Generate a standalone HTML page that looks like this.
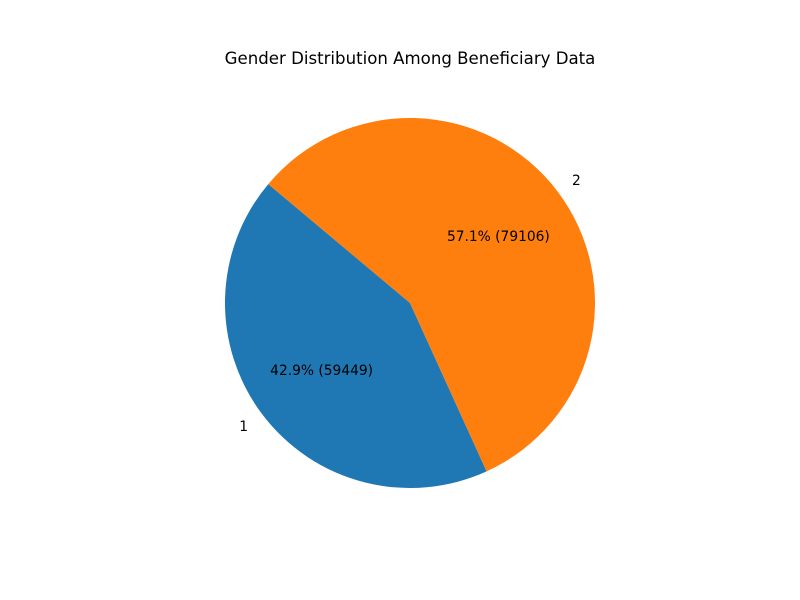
<!DOCTYPE html>
<html><head><meta charset="utf-8"><style>
body{margin:0;background:#fff;}
svg{display:block;font-family:"DejaVu Sans","Liberation Sans",sans-serif;}
</style></head><body>
<svg id="chart" width="800" height="600" viewBox="0 0 800 600">
<rect width="800" height="600" fill="#fff"/>
<text x="410" y="64" text-anchor="middle" font-size="16.6" fill="#000">Gender Distribution Among Beneficiary Data</text>
<g id="slices"></g>
</svg>
<script>
const categories = ["1", "2"];
const values = [59449, 79106];
const colors = ["#1f77b4", "#ff7f0e"];
const cx = 410, cy = 303, r = 185, startAngle = 140;
const svgNS = "http://www.w3.org/2000/svg";
const g = document.getElementById("slices");
const total = values.reduce((a, b) => a + b, 0);
let a0 = startAngle;
function pt(deg, rad) { const t = deg * Math.PI / 180; return [cx + rad * Math.cos(t), cy - rad * Math.sin(t)]; }
values.forEach((v, i) => {
  const sweep = v / total * 360;
  const a1 = a0 + sweep;
  const p0 = pt(a0, r), p1 = pt(a1, r);
  const large = sweep > 180 ? 1 : 0;
  const path = document.createElementNS(svgNS, "path");
  path.setAttribute("d", `M${cx},${cy} L${p0[0]},${p0[1]} A${r},${r} 0 ${large} 0 ${p1[0]},${p1[1]} Z`);
  path.setAttribute("fill", colors[i]);
  
  
  g.appendChild(path);
  const mid = (a0 + a1) / 2;
  const lp = pt(mid, r * 1.1);
  const lab = document.createElementNS(svgNS, "text");
  lab.setAttribute("x", lp[0]); lab.setAttribute("y", lp[1] + 5);
  lab.setAttribute("text-anchor", Math.cos(mid * Math.PI / 180) < 0 ? "end" : "start");
  lab.setAttribute("font-size", "13.8");
  lab.textContent = categories[i];
  
  
  g.appendChild(lab);
  const pp = pt(mid, r * 0.6);
  const pct = document.createElementNS(svgNS, "text");
  pct.setAttribute("x", pp[0]); pct.setAttribute("y", pp[1] + 5);
  pct.setAttribute("text-anchor", "middle");
  pct.setAttribute("font-size", "13.8");
  pct.textContent = (v / total * 100).toFixed(1) + "% (" + v + ")";
  
  
  g.appendChild(pct);
  a0 = a1;
});
</script>
</body></html>
